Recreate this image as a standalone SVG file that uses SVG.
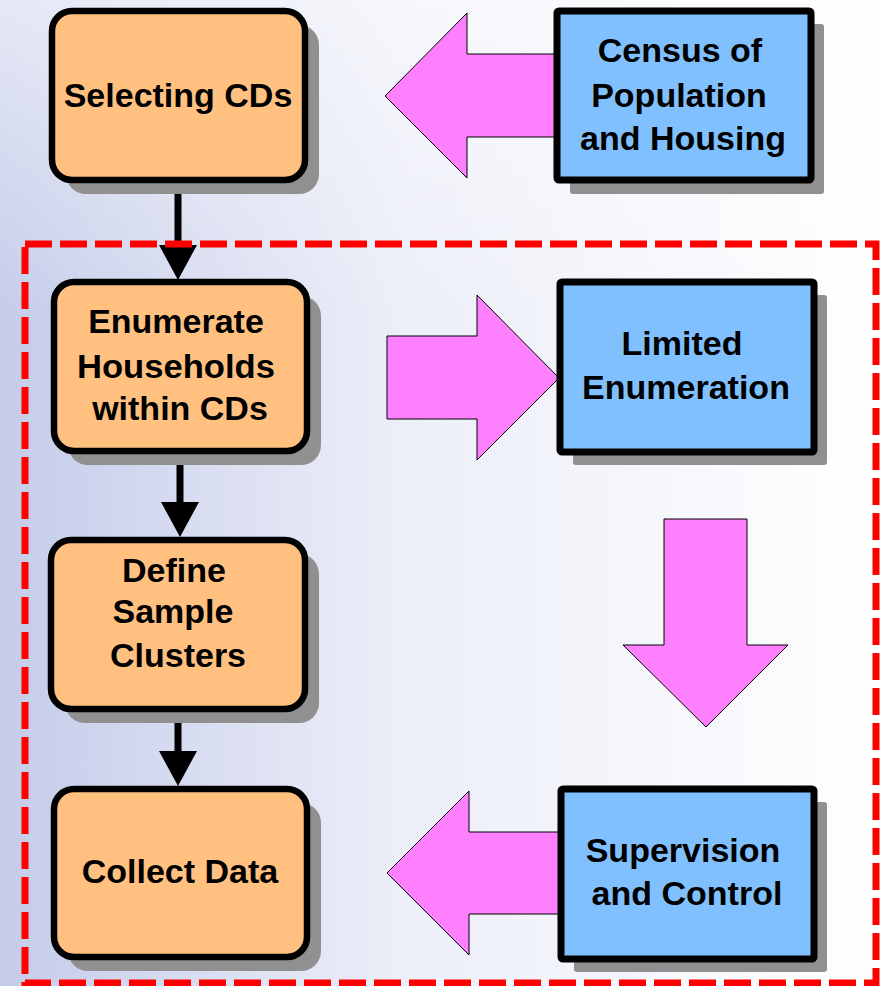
<svg xmlns="http://www.w3.org/2000/svg" width="888" height="986" viewBox="0 0 888 986">
  <defs>
    <linearGradient id="bg" x1="0" y1="0" x2="1" y2="0">
      <stop offset="0" stop-color="#c4cce9"/>
      <stop offset="0.45" stop-color="#eceef8"/>
      <stop offset="1" stop-color="#ffffff"/>
    </linearGradient>
    <linearGradient id="bgTop" x1="0" y1="0" x2="0" y2="1">
      <stop offset="0" stop-color="#ffffff" stop-opacity="0.55"/>
      <stop offset="1" stop-color="#ffffff" stop-opacity="0"/>
    </linearGradient>
    <marker id="head" markerUnits="userSpaceOnUse" markerWidth="40" markerHeight="42" refX="0" refY="20" orient="auto" viewBox="0 0 40 42">
      <path d="M0,1 L35,20 L0,39 Z" fill="#000"/>
    </marker>
  </defs>
  <style>
    .proc { fill: #ffc080; stroke: #000; stroke-width: 6.5; }
    .src { fill: #80c0ff; stroke: #000; stroke-width: 7; }
    .shadow { fill: #909090; }
    .flow { fill: #ff80ff; stroke: #000; stroke-width: 1; stroke-linejoin: miter; }
    .link { stroke: #000; stroke-width: 7; fill: none; }
    text { font-family: "Liberation Sans", Arial, sans-serif; font-weight: bold; font-size: 34px; fill: #000; text-anchor: middle; }
  </style>

  <!-- background -->
  <rect x="0" y="0" width="888" height="986" fill="url(#bg)"/>
  <rect x="0" y="0" width="888" height="320" fill="url(#bgTop)"/>

  <!-- vertical process connectors -->
  <g id="connectors">
    <line class="link" x1="178" y1="183" x2="178" y2="245" marker-end="url(#head)"/>
    <line class="link" x1="180" y1="454" x2="180" y2="502" marker-end="url(#head)"/>
    <line class="link" x1="178" y1="712" x2="178" y2="751" marker-end="url(#head)"/>
  </g>

  <!-- dashed boundary of the field operation -->
  <rect id="field-boundary" x="25" y="244" width="851" height="739" fill="none" stroke="#ff0000" stroke-width="7" stroke-dasharray="27 8"/>

  <!-- block arrows between side inputs and process steps -->
  <g id="block-arrows">
    <polygon class="flow" points="385,96 467,13 467,54 562,54 562,137 467,137 467,178"/>
    <polygon class="flow" points="387,336 477,336 477,295 559,378 477,460 477,419 387,419"/>
    <polygon class="flow" points="664,519 747,519 747,645 788,645 706,727 623,645 664,645"/>
    <polygon class="flow" points="387,873 469,791 469,832 564,832 564,914 469,914 469,955"/>
  </g>

  <g id="selecting-cds">
    <rect class="shadow" x="66" y="25" width="253" height="169" rx="20"/>
    <rect class="proc" x="52" y="11" width="253" height="169" rx="20"/>
    <text x="178" y="107">Selecting CDs</text>
  </g>

  <g id="enumerate-households">
    <rect class="shadow" x="68" y="296" width="253" height="169" rx="20"/>
    <rect class="proc" x="54" y="282" width="253" height="169" rx="20"/>
    <text x="176" y="333">Enumerate</text>
    <text x="176" y="378" textLength="198" lengthAdjust="spacingAndGlyphs">Households</text>
    <text x="180" y="420">within CDs</text>
  </g>

  <g id="define-clusters">
    <rect class="shadow" x="65" y="554" width="254" height="169" rx="20"/>
    <rect class="proc" x="51" y="540" width="254" height="169" rx="20"/>
    <text x="174" y="582">Define</text>
    <text x="173" y="623">Sample</text>
    <text x="178" y="667">Clusters</text>
  </g>

  <g id="collect-data">
    <rect class="shadow" x="68" y="803" width="253" height="168" rx="20"/>
    <rect class="proc" x="54" y="789" width="253" height="168" rx="20"/>
    <text x="180" y="883">Collect Data</text>
  </g>

  <g id="census">
    <rect class="shadow" x="570" y="24" width="254" height="170" rx="3"/>
    <rect class="src" x="557" y="11" width="254" height="169" rx="2"/>
    <text x="680" y="62">Census of</text>
    <text x="679" y="107">Population</text>
    <text x="683" y="150">and Housing</text>
  </g>

  <g id="limited-enumeration">
    <rect class="shadow" x="573" y="295" width="254" height="170" rx="3"/>
    <rect class="src" x="560" y="282" width="254" height="170" rx="2"/>
    <text x="682" y="355">Limited</text>
    <text x="686" y="399">Enumeration</text>
  </g>

  <g id="supervision-control">
    <rect class="shadow" x="574" y="802" width="253" height="170" rx="3"/>
    <rect class="src" x="561" y="789" width="253" height="170" rx="2"/>
    <text x="683" y="862">Supervision</text>
    <text x="687" y="905">and Control</text>
  </g>
</svg>
